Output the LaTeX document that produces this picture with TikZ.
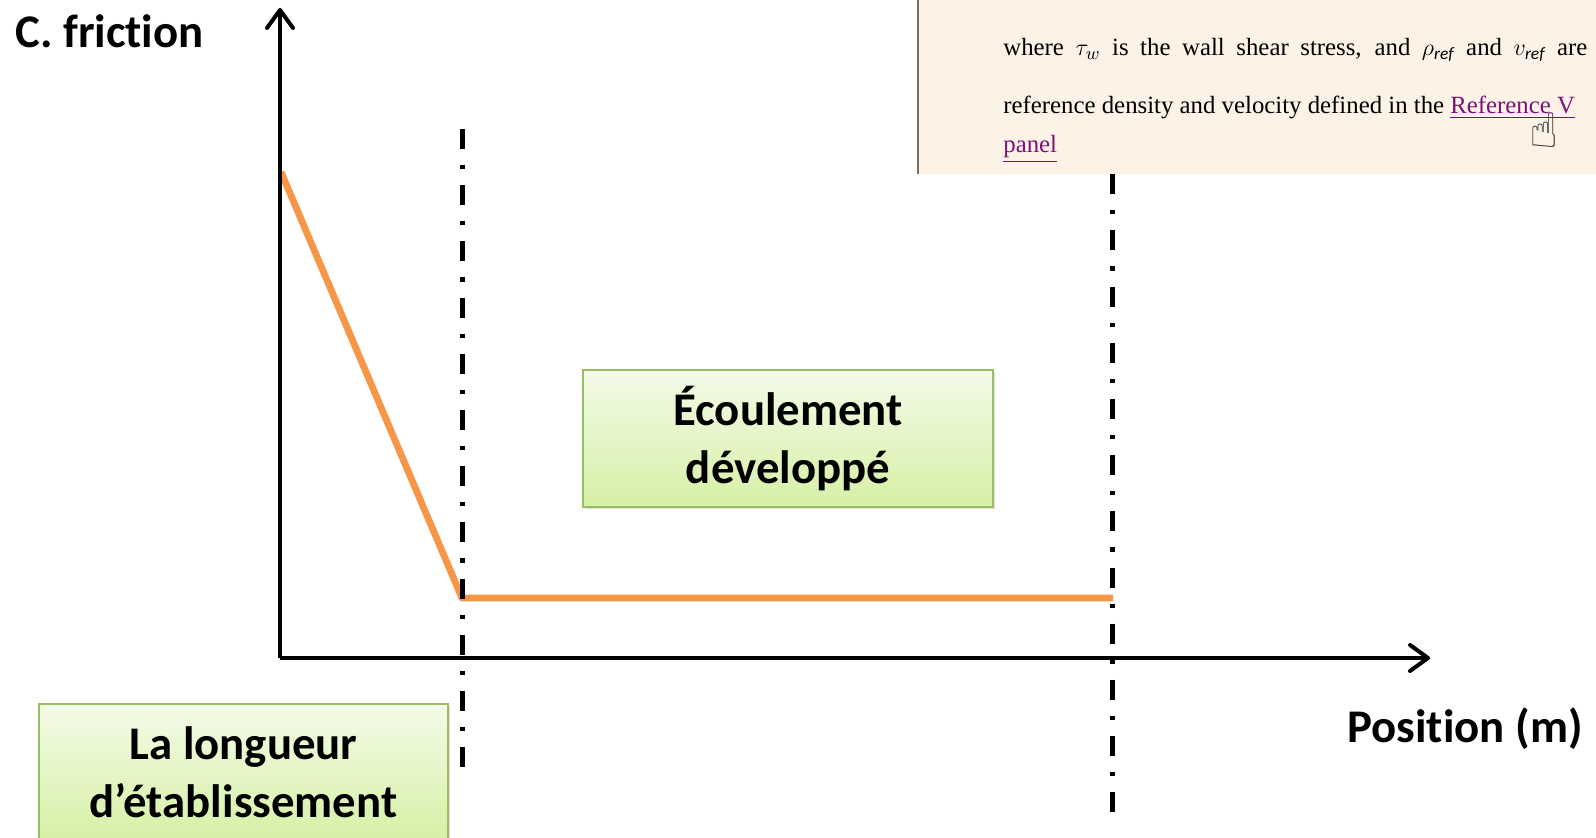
\documentclass[tikz,border=0pt]{standalone}
\usepackage{fontspec}
\setmainfont{Carlito}[Ligatures=NoCommon]
\newfontfamily\PaperFont{Liberation Serif}
\newfontfamily\SymFont{DejaVu Sans}
\usepackage{tikz}
\usetikzlibrary{arrows.meta}
\usetikzlibrary{shadows}
\usepackage{xcolor}
\definecolor{ColOrange}{RGB}{247,150,70}
\definecolor{ColBoxTop}{RGB}{243,251,232}
\definecolor{ColBoxBot}{RGB}{214,240,166}
\definecolor{ColBoxLine}{RGB}{155,190,95}
\definecolor{ColPaper}{RGB}{253,242,230}
\definecolor{ColFrame}{RGB}{120,112,100}
\definecolor{ColLink}{RGB}{120,20,120}
\newcommand{\LabelFont}{\fontsize{23.4pt}{29pt}\selectfont\bfseries}
\tikzstyle{Axis}=[line width=2pt,-{Straight Barb[length=9pt,width=13pt,round]}]
\tikzstyle{Limit}=[line width=2.5pt,dash pattern=on 10pt off 8pt on 2.1pt off 8pt]
\tikzstyle{Curve}=[ColOrange,line width=3.4pt,line join=round]
\tikzstyle{LabelBox}=[draw=ColBoxLine,line width=1pt,top color=ColBoxTop,bottom color=ColBoxBot,
drop shadow={opacity=0.25,shadow xshift=1.2pt,shadow yshift=-1.2pt},inner sep=0pt,
font=\LabelFont,align=center]
\tikzstyle{AxisLabel}=[inner sep=0pt,font=\LabelFont]
\tikzstyle{PaperText}=[inner sep=0pt,anchor=base west,font=\PaperFont\fontsize{12.4pt}{15pt}\selectfont]
\begin{document}
\begin{tikzpicture}[x=0.5pt,y=-0.5pt]
        \useasboundingbox(0,0)rectangle(1596,838);
        \coordinate(O)at(280,658);
        \coordinate(YTip)at(280,8);
        \coordinate(XTip)at(1430,658);
        \coordinate(Start)at(281,172);
        \coordinate(Knee)at(462,598);
        \coordinate(End)at(1113,598);
        \coordinate(LimATop)at(462,129);
        \coordinate(LimABot)at(462,768);
        \coordinate(LimBTop)at(1112,118);
        \coordinate(LimBBot)at(1112,815);
        \draw[Curve](Start)--(Knee)--(End);
        \draw[Axis](O)--(YTip);
        \draw[Axis](O)--(XTip);
        \draw[Limit](LimATop)--(LimABot);
        \draw[Limit](LimBTop)--(LimBBot);
        \node[AxisLabel,anchor=base west](cf)at(15,48){C. friction};
        \node[AxisLabel,anchor=base west](pos)at(1347,743){Position (m)};
        \node[LabelBox,minimum width=204.5pt,minimum height=68pt](etab)at(243.5,772){La longueur\\d’établissement};
        \node[LabelBox,minimum width=205pt,minimum height=68.5pt](dev)at(788,438.5){Écoulement\\développé};
        \fill[ColPaper](917,0)rectangle(1596,174);
        \draw[ColFrame,line width=1pt](918,0)--(918,174);
        \begin{scope}
            \clip(917,0)rectangle(1596,174);
            \node[PaperText](l1)at(1003,56){\makebox[292pt][s]{where $\tau_{w}$ is the wall shear stress, and $\rho_{\mathit{ref}}$ and $v_{\mathit{ref}}$ are}};
            \node[PaperText](l2)at(1003,114){reference density and velocity defined in the \textcolor{ColLink}{\underline{Reference V}}};
            \node[PaperText](l3)at(1003,153){\textcolor{ColLink}{\underline{panel}}};
            \node[inner sep=0pt,font=\SymFont\fontsize{24pt}{24pt}\selectfont,text=black!80](hand)at(1544,130){☝};
        \end{scope}
    \end{tikzpicture}
\end{document}
